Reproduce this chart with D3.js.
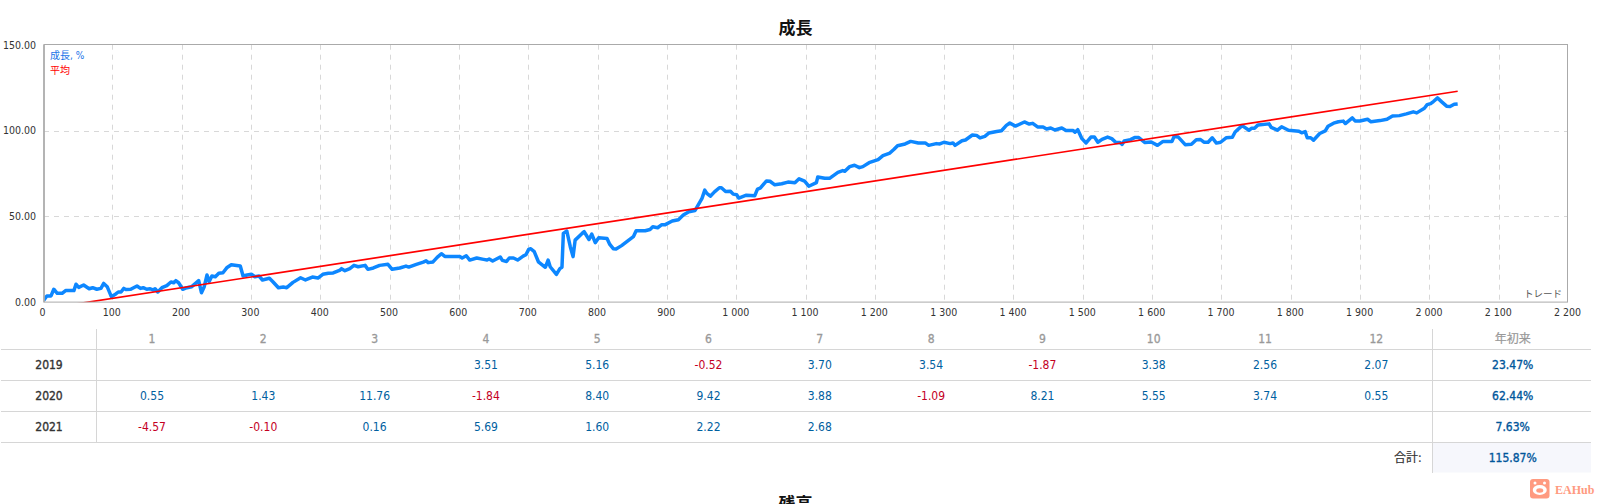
<!DOCTYPE html>
<html>
<head>
<meta charset="utf-8">
<title>成長</title>
<script src="https://cdn.jsdelivr.net/npm/d3@7"></script>
<style>
  html, body { margin: 0; padding: 0; background: #fff; overflow: hidden; }
  svg { display: block; }
  text { font-family: "DejaVu Sans", "Noto Sans CJK JP", sans-serif; font-stretch: condensed; }
</style>
</head>
<body>
<svg id="chart" width="1601" height="504"></svg>
<script>
// growth curve: trade number / growth %
const trades = [0,5,11,15,20,27,32,44,47,51,58,66,71,77,83,87,92,98,104,108,112,116,119,126,135,140,144,149,154,158,161,165,171,178,184,188,191,195,201,207,214,224,228,232,236,239,243,248,253,259,265,271,284,288,294,300,305,311,316,326,331,339,346,351,360,371,378,388,396,403,411,418,428,430,435,442,448,454,464,468,476,485,497,503,514,
  523,527,538,548,552,555,562,568,574,579,601,604,610,615,625,635,640,643,648,659,662,668,672,678,684,692,696,700,703,708,714,724,728,731,740,745,748,750,755,760,764,767,777,780,787,791,796,801,813,817,822,826,834,842,851,855,868,875,879,886,892,897,907,916,923,931,940,950,954,957,962,968,975,978,984,991,995,1000,1003,1014,1026,1030,1034,1043,1048,1055,1065,1074,1084,1090,
  1098,1104,1115,1117,1127,1134,1146,1153,1156,1163,1170,1177,1182,1191,1204,1211,1221,1227,1232,1243,1251,1262,1272,1277,1288,1293,1299,1308,1312,1315,1325,1330,1340,1346,1351,1358,1364,1375,1382,1389,1394,1402,1415,1422,1427,1434,1442,1447,1453,1459,1469,1475,1485,1488,1492,1498,1504,1511,1516,1521,1527,1535,1541,1547,1553,1556,1559,1568,1574,1580,1589,1598,1607,1615,1628,1631,1637,1647,1656,1663,1669,
  1674,1680,1686,1692,1698,1706,1715,1719,1729,1739,1743,1747,1752,1768,1771,1780,1786,1796,1811,1815,1820,1823,1828,1832,1841,1849,1853,1861,1868,1875,1878,1888,1892,1899,1910,1915,1928,1938,1946,1956,1966,1976,1981,1992,1996,2001,2005,2011,2017,2024,2029,2035,2040];
const growth = [1.0,3.7,3.7,7.6,5.2,5.2,6.8,6.8,10.5,8.7,10.1,7.9,8.5,7.6,8.1,11.0,9.1,3.3,4.7,6.0,6.0,8.1,7.4,7.6,9.5,8.1,8.5,7.6,7.9,7.2,7.9,6.0,8.5,9.7,11.8,11.4,12.6,11.4,7.6,8.5,9.1,12.6,5.6,9.1,15.9,12.0,15.3,14.9,16.9,17.2,20.3,21.9,21.1,15.3,15.9,16.3,14.9,15.3,13.0,14.0,12.0,8.5,8.9,8.5,11.6,14.3,13.0,14.7,14.1,16.3,16.9,17.1,18.8,19.6,18.4,19.6,21.5,20.7,21.5,19.2,20.0,21.5,22.1,19.2,20.0,
  21.1,20.5,22.1,23.4,24.2,23.1,23.5,26.2,28.3,26.7,26.6,25.8,27.1,24.6,25.8,25.0,24.6,25.2,24.0,26.4,24.4,23.8,25.8,25.8,24.6,26.9,27.7,30.8,31.2,29.5,23.6,20.4,24.6,20.7,16.3,19.6,20.4,40.1,41.5,32.4,26.6,36.2,40.1,41.1,36.6,39.7,34.7,37.6,37.2,33.7,31.2,31.0,33.0,35.5,38.2,41.7,41.7,42.4,44.0,43.4,45.2,45.2,47.3,48.1,50.8,52.7,53.5,60.5,65.3,63.4,61.8,64.3,66.7,66.7,64.5,64.7,63.0,62.6,60.7,62.4,62.0,65.9,66.5,70.7,70.5,68.4,69.0,70.0,69.6,71.9,
  70.5,67.6,69.7,73.0,72.2,72.2,75.7,76.7,76.3,79.0,79.8,78.4,79.0,81.3,83.1,85.4,86.9,89.1,91.2,92.2,93.7,92.8,92.8,91.4,92.4,92.2,93.2,92.4,92.8,91.4,94.1,94.5,97.4,97.2,95.7,96.6,98.6,99.5,99.9,103.0,104.4,102.6,105.0,103.8,104.2,102.1,102.1,100.9,101.5,100.3,101.5,100.1,100.1,99.0,100.5,95.3,92.8,96.2,96.2,93.2,94.9,96.2,95.3,93.0,93.0,92.0,93.9,94.7,95.9,95.9,93.0,93.3,91.4,93.7,93.7,96.6,96.2,91.8,92.0,94.7,94.8,
  93.2,93.2,95.8,92.7,93.2,95.8,96.1,99.2,102.9,100.2,101.4,101.4,103.3,103.9,101.8,100.2,102.2,100.2,99.6,98.7,99.4,95.8,95.8,94.4,98.3,99.8,102.5,104.3,105.1,105.5,104.1,107.4,105.6,105.6,106.6,105.1,105.8,106.6,108.5,108.7,109.7,110.9,110.3,113.0,115.1,115.7,116.9,119.0,116.7,114.2,114.0,115.3,115.5];
const trendTrades = [0, 2040];
const trendGrowth = [-3.9, 122.9];

const yTicks = [0, 50, 100, 150];
const xTicks = d3.range(0, 2201, 100);

// monthly table
const months = ["1","2","3","4","5","6","7","8","9","10","11","12"];
const years = ["2019","2020","2021"];
const monthly2019 = [null,null,null,"3.51","5.16","-0.52","3.70","3.54","-1.87","3.38","2.56","2.07"];
const monthly2020 = ["0.55","1.43","11.76","-1.84","8.40","9.42","3.88","-1.09","8.21","5.55","3.74","0.55"];
const monthly2021 = ["-4.57","-0.10","0.16","5.69","1.60","2.22","2.68",null,null,null,null,null];
const ytd = ["23.47%","62.44%","7.63%"];
const total = "115.87%";

const svg = d3.select("#chart");

// the frame sits slightly inside the 0 and 2 200 ticks
const plotLeft = 44, plotRight = 1567.5;
const x = d3.scaleLinear().domain([0, 2200]).range([43.4, 1568.6]);
const y = d3.scaleLinear().domain([0, 150]).range([302.3, 44.7]);

svg.append("text").attr("x", 795.5).attr("y", 34)
    .attr("text-anchor", "middle").attr("font-size", 17).attr("font-weight", 700)
    .attr("fill", "#111").text("成長");

// --- grid ---
const grid = svg.append("g").attr("stroke", "#d8d8d8").attr("stroke-dasharray", "5,5");
grid.selectAll("line.gx").data(xTicks.slice(1, -1)).join("line")
    .attr("x1", d => Math.floor(x(d)) + 0.5).attr("x2", d => Math.floor(x(d)) + 0.5)
    .attr("y1", y(150)).attr("y2", y(0));
grid.selectAll("line.gy").data(yTicks.slice(1, -1)).join("line")
    .attr("x1", plotLeft).attr("x2", plotRight)
    .attr("y1", d => Math.round(y(d)) + 0.5).attr("y2", d => Math.round(y(d)) + 0.5);

// --- axes ---
const xAxis = svg.append("g").attr("transform", "translate(-1.5,302)")
    .call(d3.axisBottom(x).tickValues(xTicks).tickSize(0).tickPadding(7)
        .tickFormat(d => d3.format(",")(d).replace(",", " ")));
const yAxis = svg.append("g").attr("transform", "translate(44,0)")
    .call(d3.axisLeft(y).tickValues(yTicks).tickSize(0).tickPadding(8).tickFormat(d3.format(".2f")));
[xAxis, yAxis].forEach(a => {
    a.select(".domain").remove();
    a.selectAll("text").attr("font-size", 10.5).attr("fill", "#333")
        .style("font-family", '"DejaVu Sans", sans-serif').style("font-stretch", "condensed");
});

// --- lines ---
svg.append("clipPath").attr("id", "plot").append("rect")
    .attr("x", plotLeft).attr("y", y(150)).attr("width", plotRight - plotLeft).attr("height", y(0) - y(150));
const line = d3.line().x(d => x(d[0])).y(d => y(d[1]));
const plot = svg.append("g").attr("clip-path", "url(#plot)").attr("fill", "none");
plot.append("path").datum(d3.zip(trades, growth)).attr("d", line)
    .attr("stroke", "#0d87ff").attr("stroke-width", 3.5).attr("stroke-linejoin", "round");
plot.append("path").datum(d3.zip(trendTrades, trendGrowth)).attr("d", line)
    .attr("stroke", "#ff0000").attr("stroke-width", 1.7);

svg.append("rect").attr("x", plotLeft).attr("y", y(150) - 0.2)
    .attr("width", plotRight - plotLeft).attr("height", y(0) - y(150))
    .attr("fill", "none").attr("stroke", "#aaa").attr("stroke-width", 1);
svg.append("line").attr("x1", plotLeft).attr("x2", plotLeft).attr("y1", y(150)).attr("y2", y(0))
    .attr("stroke", "#aaa").attr("stroke-width", 1.5);

// legend and axis caption
svg.append("text").attr("x", 50).attr("y", 59).attr("font-size", 10).attr("fill", "#1a73e8").text("成長, %");
svg.append("text").attr("x", 50).attr("y", 74).attr("font-size", 10).attr("fill", "#f00").text("平均");
svg.append("text").attr("x", 1562).attr("y", 297).attr("text-anchor", "end").attr("font-size", 9.5).attr("fill", "#555").text("トレード");

// --- table ---
const colX = d3.scalePoint().domain(months).range([152, 1376.3]);
const rowY = d3.scalePoint().domain(years).range([364.5, 426.5]);
const tableLeft = 1, tableRight = 1591, leftSep = 96.5, rightSep = 1432.5;
const table = svg.append("g");

table.append("rect").attr("x", rightSep).attr("y", 442.5)
    .attr("width", tableRight - rightSep).attr("height", 30).attr("fill", "#f6f7fc");

const rules = table.append("g").attr("stroke", "#d6d6d6");
rules.selectAll("line.h").data([349.5, 380.5, 411.5, 442.5]).join("line")
    .attr("x1", tableLeft).attr("x2", tableRight).attr("y1", d => d).attr("y2", d => d);
rules.append("line").attr("x1", leftSep).attr("x2", leftSep).attr("y1", 329).attr("y2", 442.5);
rules.append("line").attr("x1", rightSep).attr("x2", rightSep).attr("y1", 329).attr("y2", 473);

// heavy: a thin outline in the text colour, real bold runs too wide here
function cell(tx, ty, label, fill, heavy, anchor) {
    table.append("text").attr("x", tx).attr("y", ty).attr("dy", "0.36em")
        .attr("text-anchor", anchor || "middle").attr("font-size", 12)
        .attr("fill", fill).attr("stroke", heavy ? fill : "none").attr("stroke-width", heavy || 0)
        .text(label);
}

months.forEach(m => cell(colX(m), 339, m, "#999", 0.3));
cell(1512.7, 339, "年初来", "#999", 0.2);

[monthly2019, monthly2020, monthly2021].forEach((row, i) => {
    cell(49, rowY(years[i]), years[i], "#333", 0.35);
    row.forEach((v, j) => {
        if (v === null) return;
        cell(colX(months[j]), rowY(years[i]), v, v.startsWith("-") ? "#c4001f" : "#00609f");
    });
    cell(1512.7, rowY(years[i]), ytd[i], "#00569b", 0.35);
});
cell(1421.7, 458, "合計:", "#333", 0.2, "end");
cell(1512.7, 458, total, "#00569b", 0.35);

// next chart's title, cut off by the window
svg.append("text").attr("x", 795.5).attr("y", 510)
    .attr("text-anchor", "middle").attr("font-size", 17).attr("font-weight", 700)
    .attr("fill", "#111").text("残高");

// watermark
const mark = svg.append("g").attr("transform", "translate(1530,479)");
mark.append("rect").attr("width", 19.5).attr("height", 19.5).attr("rx", 3).attr("fill", "#ff9a80");
mark.append("ellipse").attr("cx", 9.75).attr("cy", 11).attr("rx", 7).attr("ry", 5).attr("fill", "#fff");
mark.append("ellipse").attr("cx", 9.75).attr("cy", 11.5).attr("rx", 3.5).attr("ry", 2.2).attr("fill", "#ff9a80");
mark.selectAll("circle").data([5, 14.5]).join("circle")
    .attr("cx", d => d).attr("cy", 4).attr("r", 1.5).attr("fill", "#fff");
svg.append("text").attr("x", 1555).attr("y", 494).attr("font-size", 12).attr("font-weight", 700)
    .attr("fill", "#ff9a80").style("font-family", '"Liberation Serif", serif').text("EAHub");
</script>
</body>
</html>
